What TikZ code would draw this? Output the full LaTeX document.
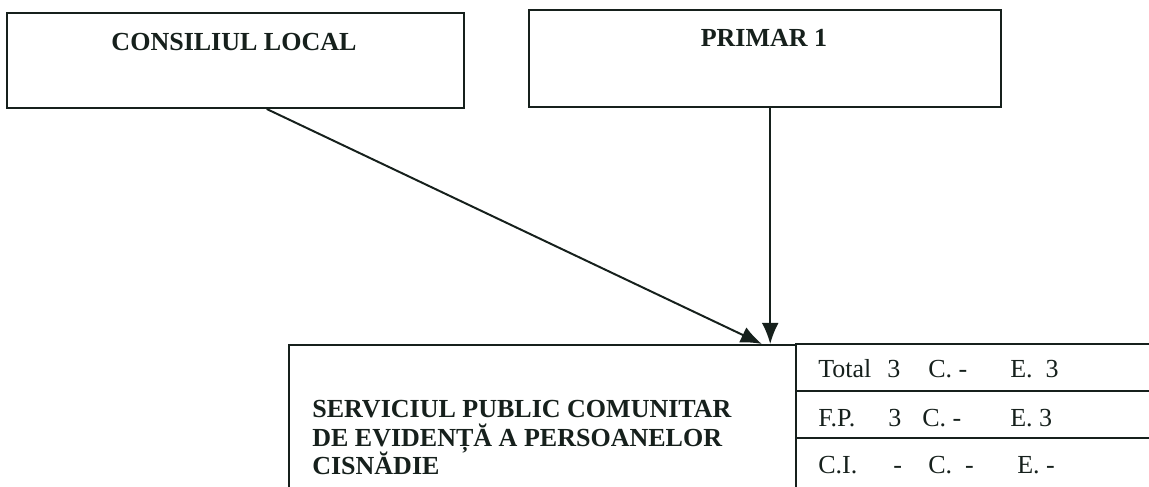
\documentclass[tikz,border=0pt]{standalone}
\usepackage{fontspec}
\setmainfont{Liberation Serif}
\usetikzlibrary{arrows.meta,fit,calc}
\definecolor{ink}{RGB}{22,32,28}
\tikzset{
  box/.style={draw=ink, line width=1.4pt, inner sep=0pt, rectangle},
  title/.style={font=\fontsize{18.5}{22}\selectfont\bfseries, text=ink, anchor=base, inner sep=0pt},
  mainline/.style={font=\fontsize{18.5}{22}\selectfont\bfseries, text=ink, anchor=base west, inner sep=0pt},
  cell/.style={font=\fontsize{18.5}{22}\selectfont, text=ink, anchor=base west, inner sep=0pt},
  arr/.style={draw=ink, line width=1.4pt, -{Latex[length=15pt,width=12pt]}},
}
\begin{document}
\begin{tikzpicture}[x=0.025cm,y=-0.025cm]
\useasboundingbox (0,0) rectangle (1149,486);
\clip (0,0) rectangle (1149,486);
\fill[white] (0,0) rectangle (1149,486);
% top boxes
\node[box, fit={(7,13) (464,108)}] (cl) {};
\node[title] (clt) at (234,51) {CONSILIUL LOCAL};
\node[box, fit={(529,10) (1001,107)}] (pr) {};
\node[title] (prt) at (764,47) {PRIMAR 1};
% bottom main box (bottom edge out of view)
\node[box, fit={(289,345) (796,520)}] (sv) {};
\node[mainline] (sv1) at (312,417) {SERVICIUL PUBLIC COMUNITAR};
\node[mainline] (sv2) at (312,446) {DE EVIDENȚĂ A PERSOANELOR};
\node[mainline] (sv3) at (312,474) {CISNĂDIE};
% table rows (right edge out of view)
\node[box, fit={(796,344) (1170,391)}] (r1) {};
\node[box, fit={(796,391) (1170,438)}] (r2) {};
\node[box, fit={(796,438) (1170,520)}] (r3) {};
% row 1
\node[cell] (r1a) at (818,377) {Total};
\node[cell] (r1b) at (887,377) {3};
\node[cell] (r1c) at (928,377) {C. -};
\node[cell] (r1d) at (1010,377) {E.\ \ 3};
% row 2
\node[cell] (r2a) at (818,426) {F.P.};
\node[cell] (r2b) at (888,426) {3};
\node[cell] (r2c) at (922,426) {C. -};
\node[cell] (r2d) at (1010,426) {E. 3};
% row 3
\node[cell] (r3a) at (818,473) {C.I.};
\node[cell] (r3b) at (893,473) {-};
\node[cell] (r3c) at (928,473) {C.\ \ -};
\node[cell] (r3d) at (1017,473) {E. -};
% connectors
\coordinate (s1) at ($(cl.south west)!0.568!(cl.south east)$);
\coordinate (t1) at ($(sv.north west)!0.931!(sv.north east)$);
\coordinate (s2) at ($(pr.south west)!0.511!(pr.south east)$);
\draw[arr] (s1) -- (t1);
\draw[arr] (s2) -- (s2 |- sv.north);
\end{tikzpicture}
\end{document}
